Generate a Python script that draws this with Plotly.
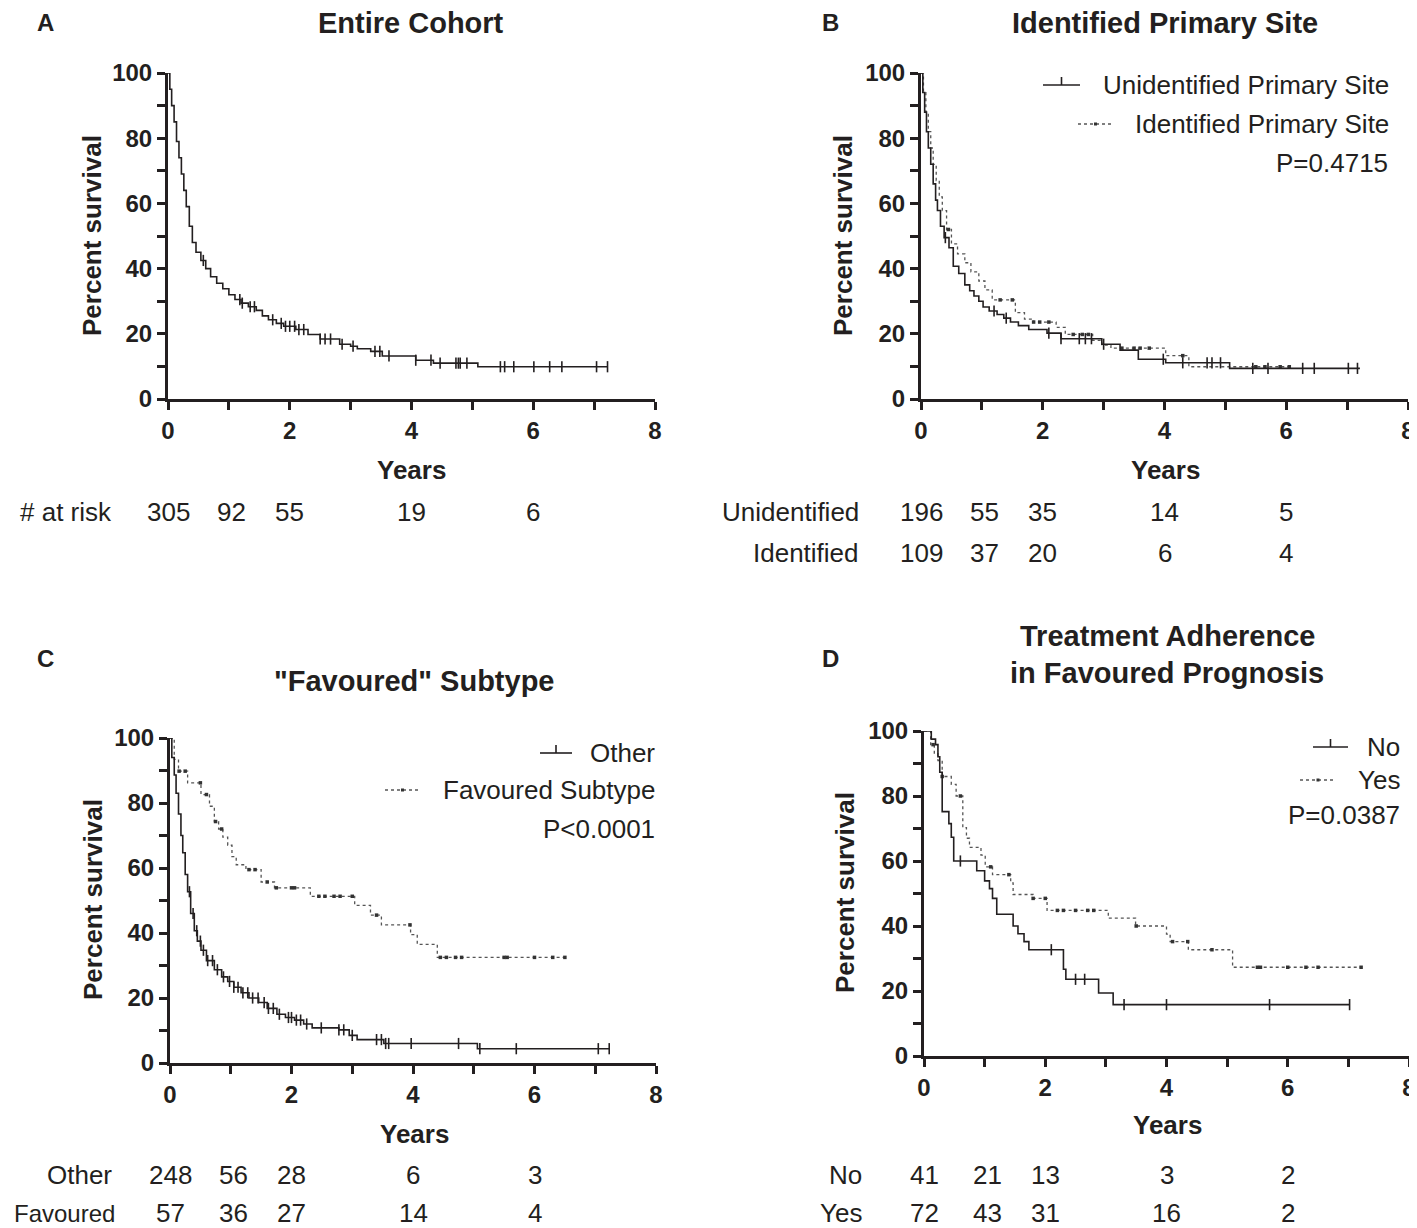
import numpy as np
import plotly.graph_objects as go

W, H = 1417, 1228
OFF = 8  # default page margin around the plot div
FW, FH = W - OFF, H - OFF
FONT = "Liberation Sans, Arial, sans-serif"
INK = "#231f20"

# ---- Kaplan-Meier step data (time in years, percent survival) ----
a_t = [0, 0.03, 0.06, 0.1, 0.14, 0.18, 0.22, 0.26, 0.3, 0.35, 0.4, 0.46, 0.54, 0.62, 0.7, 0.8, 0.9, 1.0, 1.1, 1.2,
       1.32, 1.45, 1.55, 1.65, 1.78, 1.9, 2.1, 2.3, 2.5, 2.82, 3.0, 3.11, 3.33, 3.52, 4.07, 4.36, 5.09, 7.22]
a_s = [100, 95, 90, 85, 79, 74, 69, 64, 59, 53, 48, 45, 42.5, 40, 37.5, 35.5, 33.8, 32, 30.5, 29.4,
       28.3, 27.2, 25.5, 24.3, 23.2, 22.3, 21.3, 19.8, 18.4, 16.8, 16.2, 15.4, 14.6, 13.2, 11.9, 11.0, 9.9, 9.9]
a_cens = [0.58, 1.18, 1.22, 1.35, 1.42, 1.72, 1.86, 1.93, 2.0, 2.08, 2.15, 2.23, 2.5, 2.58, 2.67, 2.86, 3.04,
          3.4, 3.48, 3.63, 4.07, 4.32, 4.47, 4.73, 4.77, 4.8, 4.91, 5.46, 5.53, 5.68, 6.01, 6.27, 6.47, 7.04, 7.22]
a_risk = [305, 92, 55, 19, 6]

b1_t = [0, 0.03, 0.06, 0.09, 0.12, 0.16, 0.2, 0.24, 0.27, 0.32, 0.38, 0.46, 0.53, 0.62, 0.72, 0.8, 0.87, 0.95,
        1.02, 1.12, 1.25, 1.36, 1.47, 1.6, 1.77, 2.07, 2.3, 2.97, 3.27, 3.57, 4.02, 5.07, 7.21]
b1_s = [100, 94, 88, 82, 77, 72, 66, 61, 57.8, 53, 49.5, 46.4, 40.7, 38.5, 35, 33.2, 31.6, 30,
        28.2, 27, 25.9, 24.8, 23.6, 22.5, 21.3, 20.2, 18.5, 16.8, 15, 12.2, 11.1, 9.4, 9.4]
b1_cens = [0.4, 1.2, 1.4, 2.1, 2.3, 2.6, 2.7, 2.8, 3.0, 3.98, 4.3, 4.7, 4.78, 4.92, 5.45, 5.7, 6.27, 6.46, 7.02, 7.17]
b2_t = [0, 0.04, 0.08, 0.12, 0.16, 0.2, 0.25, 0.3, 0.35, 0.42, 0.5, 0.6, 0.72, 0.82, 0.95, 1.05, 1.17, 1.55,
        1.7, 1.85, 2.22, 2.37, 2.82, 2.97, 3.12, 4.02, 4.4, 6.05]
b2_s = [100, 94, 88, 82, 77, 72, 67, 62, 57.8, 52, 47.6, 44.5, 41.8, 39, 36.2, 33.5, 30.4, 26.5,
        24.5, 23.6, 22.0, 19.8, 18.0, 16.5, 15.6, 13.3, 9.9, 9.9]
b2_cens = [0.45, 1.3, 1.5, 1.85, 1.95, 2.1, 2.5, 2.65, 2.75, 3.3, 3.5, 3.6, 3.75, 4.3, 5.5, 5.65, 5.9, 6.05]
b_risk_unid = [196, 55, 35, 14, 5]
b_risk_iden = [109, 37, 20, 6, 4]

c1_t = [0, 0.03, 0.07, 0.1, 0.14, 0.18, 0.21, 0.25, 0.29, 0.34, 0.4, 0.45, 0.51, 0.6, 0.73, 0.85, 0.95, 1.05,
        1.17, 1.3, 1.46, 1.6, 1.76, 1.9, 2.05, 2.2, 2.34, 2.78, 2.95, 3.08, 3.52, 5.06, 7.23]
c1_s = [100, 94, 88.6, 83, 76.6, 70, 64.7, 58, 52.7, 46, 40.7, 37.5, 34.7, 31.5, 28.7, 26.5, 25.1, 23.3,
        21.6, 20, 18.6, 16.8, 15, 14, 13.2, 12, 10.8, 10.2, 8.5, 7.2, 6.0, 4.4, 4.4]
c1_cens = [0.32, 0.38, 0.44, 0.5, 0.55, 0.62, 0.7, 0.78, 0.88, 0.98, 1.05, 1.12, 1.2, 1.28, 1.36, 1.45, 1.55,
           1.62, 1.7, 1.8, 1.95, 2.0, 2.08, 2.15, 2.25, 2.49, 2.78, 2.86, 3.0, 3.4, 3.48, 3.55, 3.6, 3.97, 4.75,
           5.1, 5.7, 7.05, 7.23]
c2_t = [0, 0.07, 0.14, 0.29, 0.51, 0.65, 0.73, 0.8, 0.87, 0.95, 1.02, 1.09, 1.25, 1.5, 1.72, 2.31, 3.04,
        3.3, 3.48, 3.96, 4.07, 4.4, 6.5]
c2_s = [100, 93.4, 89.8, 86.2, 82.6, 79, 74.3, 72, 69.5, 67, 63.5, 61, 59.5, 55.7, 53.9, 51.3, 48.5,
        45.5, 42.5, 39.5, 36.5, 32.5, 32.5]
c2_cens = [0.15, 0.25, 0.5, 0.6, 0.75, 0.85, 1.3, 1.4, 1.6, 1.75, 2.0, 2.05, 2.45, 2.55, 2.7, 2.8, 3.0,
           3.4, 3.95, 4.45, 4.55, 4.7, 4.8, 5.5, 5.55, 6.0, 6.3, 6.5]
c_risk_other = [248, 56, 28, 6, 3]
c_risk_fav = [57, 36, 27, 14, 4]

d1_t = [0, 0.12, 0.19, 0.23, 0.26, 0.3, 0.41, 0.45, 0.49, 0.87, 1.0, 1.08, 1.13, 1.2, 1.47, 1.55, 1.65, 1.73,
        2.3, 2.34, 2.88, 3.12, 7.02]
d1_s = [100, 97.5, 95.8, 92.1, 87.3, 75.2, 71.5, 67.3, 60, 57, 53.9, 51.5, 48.5, 43.6, 40, 37.6, 35.2, 32.7,
        26.7, 23.6, 19.4, 15.8, 15.8]
d1_cens = [0.6, 2.1, 2.5, 2.65, 3.3, 4.0, 5.7, 7.02]
d2_t = [0, 0.11, 0.17, 0.23, 0.3, 0.45, 0.53, 0.64, 0.7, 0.75, 0.94, 1.01, 1.13, 1.43, 1.47, 1.8, 2.03, 3.04,
        3.49, 4.0, 4.06, 4.36, 5.09, 7.21]
d2_s = [100, 95.8, 93, 90.9, 86, 83.6, 80, 70.3, 67, 64.2, 61.8, 58.2, 55.8, 53.3, 49.7, 48.5, 44.8, 42.4,
        40, 37.5, 35.2, 32.7, 27.3, 27.3]
d2_cens = [0.15, 0.3, 0.6, 1.1, 1.4, 1.8, 2.0, 2.2, 2.3, 2.5, 2.7, 2.8, 3.5, 4.1, 4.35, 4.75, 5.5, 5.55, 6.0,
           6.3, 6.5, 7.21]
d_risk_no = [41, 21, 13, 3, 2]
d_risk_yes = [72, 43, 31, 16, 2]

risk_times = [0, 1.05, 2, 4, 6]


# page pixel -> paper fraction (the plot div sits OFF px in from the page corner)
def px(x):
    return (x - OFF) / FW


def py(y):
    return 1 - (y - OFF) / FH


def surv_at(t, s, times):
    idx = np.searchsorted(np.array(t), np.array(times), side="right") - 1
    return np.array(s)[idx]


fig = go.Figure()

panels = [
    # axis suffix, x domain px, y domain px
    ("", (168, 655), (73, 399)),
    ("2", (921, 1408), (73, 399)),
    ("3", (170, 656), (738, 1063)),
    ("4", (924, 1409), (731, 1056)),
]


def add_curve(k, t, s, cens, dotted):
    xa, ya = "x" + panels[k][0], "y" + panels[k][0]
    line = dict(color="#555" if dotted else INK, width=1.3 if dotted else 1.6,
                dash="dot" if dotted else "solid")
    fig.add_trace(go.Scatter(x=t, y=s, mode="lines", line=line, line_shape="hv",
                             xaxis=xa, yaxis=ya, cliponaxis=False, hoverinfo="skip"))
    if dotted:
        mk = dict(symbol="square", size=3.5, color="#333")
    else:
        mk = dict(symbol="line-ns", size=8, line=dict(color=INK, width=1.6))
    fig.add_trace(go.Scatter(x=cens, y=surv_at(t, s, cens), mode="markers", marker=mk,
                             xaxis=xa, yaxis=ya, cliponaxis=False, hoverinfo="skip"))


add_curve(0, a_t, a_s, a_cens, False)
add_curve(1, b2_t, b2_s, b2_cens, True)
add_curve(1, b1_t, b1_s, b1_cens, False)
add_curve(2, c2_t, c2_s, c2_cens, True)
add_curve(2, c1_t, c1_s, c1_cens, False)
add_curve(3, d2_t, d2_s, d2_cens, True)
add_curve(3, d1_t, d1_s, d1_cens, False)

layout = dict(template="none", width=FW, height=FH, margin=dict(l=0, r=0, t=0, b=0), autosize=False,
              paper_bgcolor="white", plot_bgcolor="white", showlegend=False,
              font=dict(family=FONT, color=INK))

for k, (sfx, (x0, x1), (y0, y1)) in enumerate(panels):
    xa = dict(domain=[px(x0), min(px(x1), 1)], range=[0, 8], tickvals=[0, 2, 4, 6, 8], ticks="outside",
              ticklen=8, tickwidth=3, tickcolor=INK, showline=True, linewidth=3, linecolor=INK,
              showgrid=False, zeroline=False, anchor="y" + sfx, automargin=False,
              tickfont=dict(family=FONT, size=24, weight="bold", color=INK),
              minor=dict(ticks="outside", dtick=1, tick0=0, ticklen=8, tickwidth=3, tickcolor=INK, showgrid=False))
    ya = dict(domain=[py(y1), py(y0)], range=[0, 100], tickvals=[0, 20, 40, 60, 80, 100], ticks="outside",
              ticklen=8, tickwidth=3, tickcolor=INK, showline=True, linewidth=3, linecolor=INK,
              showgrid=False, zeroline=False, anchor="x" + sfx, automargin=False,
              tickfont=dict(family=FONT, size=24, weight="bold", color=INK),
              minor=dict(ticks="outside", dtick=10, tick0=0, ticklen=8, tickwidth=3, tickcolor=INK, showgrid=False))
    layout["xaxis" + sfx] = xa
    layout["yaxis" + sfx] = ya

fig.update_layout(**layout)

ann = []


def text(x, y, s, size=26, bold=False, xanchor="center", angle=0):
    ann.append(dict(x=px(x), y=py(y), xref="paper", yref="paper", text=s, showarrow=False,
                    xanchor=xanchor, yanchor="middle", textangle=angle,
                    font=dict(family=FONT, size=size, color=INK, weight="bold" if bold else "normal")))


# panel letters and titles
text(45, 23, "A", 24, True)
text(411, 23, "Entire Cohort", 29, True)
text(830, 23, "B", 24, True)
text(1165, 23, "Identified Primary Site", 29, True)
text(45, 658, "C", 24, True)
text(414, 681, "\"Favoured\" Subtype", 29, True)
text(830, 658, "D", 24, True)
text(1167, 636, "Treatment Adherence", 29, True)
text(1167, 673, "in Favoured Prognosis", 29, True)

# axis titles
for (xc, yc, xt, yt) in [(92, 236, 411, 470), (843, 236, 1165, 470), (93, 900, 414, 1134), (845, 893, 1167, 1125)]:
    text(xc, yc, "Percent survival", 26, True, angle=-90)
    text(xt, yt, "Years", 26, True)


# number at risk rows
def risk_row(k, label, label_x, y, values, size=26):
    text(label_x, y, label, size, xanchor="right")
    sfx = panels[k][0]
    for t, v in zip(risk_times, values):
        ann.append(dict(x=t, y=py(y), xref="x" + sfx, yref="paper", text=str(v), showarrow=False,
                        xanchor="center", yanchor="middle", font=dict(family=FONT, size=26, color=INK)))


risk_row(0, "# at risk", 114, 512, a_risk)
risk_row(1, "Unidentified", 861, 512, b_risk_unid)
risk_row(1, "Identified", 861, 553, b_risk_iden)
risk_row(2, "Other", 114, 1175, c_risk_other)
risk_row(2, "Favoured", 117, 1213, c_risk_fav, size=24)
risk_row(3, "No", 864, 1175, d_risk_no)
risk_row(3, "Yes", 864, 1213, d_risk_yes)

# legends
shapes = []


def legend_item(x0, x1, y, label, xr, dotted):
    xm = (x0 + x1) / 2
    if dotted:
        shapes.append(dict(type="line", xref="paper", yref="paper", x0=px(x0), x1=px(x1), y0=py(y), y1=py(y),
                           line=dict(color="#555", width=1.3, dash="dot")))
        shapes.append(dict(type="rect", xref="paper", yref="paper", x0=px(xm - 1.5), x1=px(xm + 1.5),
                           y0=py(y + 1.5), y1=py(y - 1.5), line=dict(width=0), fillcolor="#333"))
    else:
        shapes.append(dict(type="line", xref="paper", yref="paper", x0=px(x0), x1=px(x1), y0=py(y), y1=py(y),
                           line=dict(color=INK, width=1.6)))
        shapes.append(dict(type="line", xref="paper", yref="paper", x0=px(xm), x1=px(xm), y0=py(y), y1=py(y - 8),
                           line=dict(color=INK, width=1.6)))
    text(xr, y, label, 26, xanchor="right")


legend_item(1043, 1080, 85, "Unidentified Primary Site", 1391, False)
legend_item(1078, 1113, 124, "Identified Primary Site", 1391, True)
text(1390, 163, "P=0.4715", 26, xanchor="right")

legend_item(540, 572, 753, "Other", 657, False)
legend_item(385, 420, 790, "Favoured Subtype", 657, True)
text(657, 829, "P<0.0001", 26, xanchor="right")

legend_item(1313, 1348, 747, "No", 1402, False)
legend_item(1300, 1336, 780, "Yes", 1402, True)
text(1402, 815, "P=0.0387", 26, xanchor="right")

fig.update_layout(annotations=ann, shapes=shapes)
fig.write_html("out.html")
